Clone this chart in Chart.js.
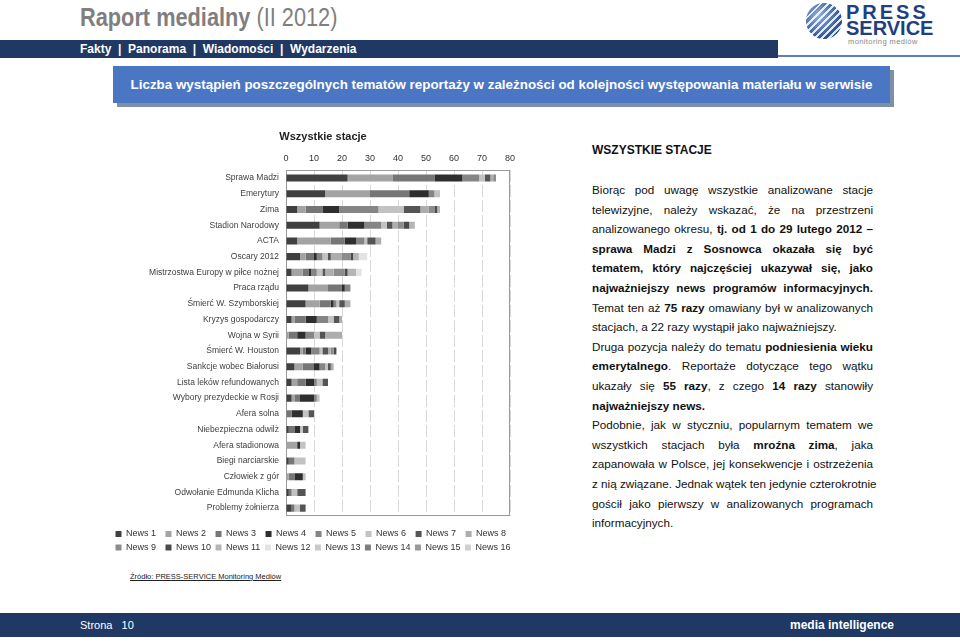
<!DOCTYPE html>
<html><head><meta charset="utf-8">
<script src="https://cdn.jsdelivr.net/npm/chart.js@4.4.1/dist/chart.umd.min.js"></script>
<style>
html,body{margin:0;padding:0;background:#fff;}
body{width:960px;height:644px;position:relative;overflow:hidden;font-family:"Liberation Sans",Arial,sans-serif;}
.abs{position:absolute;white-space:nowrap;}
#hdr{left:80px;top:5px;font-size:25px;line-height:25px;color:#7f7f7f;transform:scaleX(0.87);transform-origin:left top;}
#nav{left:0;top:40px;width:778px;height:18px;background:#1f3864;}
#navtxt{left:80px;top:40px;line-height:18px;font-size:12px;font-weight:bold;color:#fff;}
#navline{left:778px;top:55px;width:182px;height:2px;background:#5b7fb8;}
#tbox{left:113px;top:66px;width:777px;height:37px;background:#4a76c4;box-shadow:4px 4px 0 #7f8fa8;color:#fff;font-weight:bold;font-size:13.4px;line-height:37px;text-align:center;}
#logoC{left:806px;top:3px;width:36px;height:36px;border-radius:50%;
 background:repeating-linear-gradient(135deg,rgba(255,255,255,0.85) 0 2px,rgba(255,255,255,0) 2px 5px),radial-gradient(circle at 35% 35%,#8fb0e0,#2a4f94 70%,#1b3570);}
#logoP{left:846px;top:2px;font-size:20px;line-height:20px;font-weight:bold;color:#1f3f80;letter-spacing:3px;}
#logoS{left:846px;top:18px;font-size:20px;line-height:20px;font-weight:bold;color:#1f3f80;}
#logoM{left:848px;top:37px;font-size:7.5px;color:#888;letter-spacing:0.4px;}
#wst{left:592px;top:140px;line-height:20px;font-size:12px;font-weight:bold;color:#111;}
#para{position:absolute;left:592px;top:180px;width:281px;font-size:11.7px;line-height:19.6px;color:#111;}
#para div{text-align:justify;text-align-last:justify;white-space:nowrap;}
#para div.l{text-align-last:left;}
#src{left:130px;top:572px;font-size:7.5px;color:#222;text-decoration:underline;}
#foot{left:0;top:613px;width:960px;height:24px;background:#1f3864;}
#ftL{left:80px;top:613px;line-height:24px;font-size:11px;color:#fff;}
#ftR{left:790px;top:613px;line-height:24px;font-size:12px;font-weight:bold;color:#fff;}
#cv{position:absolute;left:111px;top:125px;}
</style></head>
<body>
<div class="abs" id="hdr"><b>Raport medialny</b> (II 2012)</div>
<div class="abs" id="logoC"></div>
<div class="abs" id="logoP">PRESS</div>
<div class="abs" id="logoS">SERVICE</div>
<div class="abs" id="logoM">monitoring mediów</div>
<div class="abs" id="nav"></div>
<div class="abs" id="navline"></div>
<div class="abs" id="navtxt">Fakty &nbsp;| &nbsp;Panorama &nbsp;| &nbsp;Wiadomości &nbsp;| &nbsp;Wydarzenia</div>
<div class="abs" id="tbox">Liczba wystąpień poszczególnych tematów reportaży w zależności od kolejności występowania materiału w serwisie</div>

<div class="abs" id="wst">WSZYSTKIE STACJE</div>
<div id="para">
<div>Biorąc pod uwagę wszystkie analizowane stacje</div>
<div>telewizyjne, należy wskazać, że na przestrzeni</div>
<div>analizowanego okresu, <b>tj. od 1 do 29 lutego 2012 –</b></div>
<div><b>sprawa Madzi z Sosnowca okazała się być</b></div>
<div><b>tematem, który najczęściej ukazywał się, jako</b></div>
<div><b>najważniejszy news programów informacyjnych.</b></div>
<div>Temat ten aż <b>75 razy</b> omawiany był w analizowanych</div>
<div class="l">stacjach, a 22 razy wystąpił jako najważniejszy.</div>
<div>Druga pozycja należy do tematu <b>podniesienia wieku</b></div>
<div><b>emerytalnego</b>. Reportaże dotyczące tego wątku</div>
<div>ukazały się <b>55 razy</b>, z czego <b>14 razy</b> stanowiły</div>
<div class="l"><b>najważniejszy news.</b></div>
<div>Podobnie, jak w styczniu, popularnym tematem we</div>
<div>wszystkich stacjach była <b>mroźna zima</b>, jaka</div>
<div>zapanowała w Polsce, jej konsekwencje i ostrzeżenia</div>
<div>z nią związane. Jednak wątek ten jedynie czterokrotnie</div>
<div>gościł jako pierwszy w analizowanych programach</div>
<div class="l">informacyjnych.</div>
</div>

<div class="abs" id="src">Źródło: PRESS-SERVICE Monitoring Mediów</div>
<div class="abs" id="foot"></div>
<div class="abs" id="ftL">Strona &nbsp;&nbsp;10</div>
<div class="abs" id="ftR">media intelligence</div>

<canvas id="cv" width="424" height="440"></canvas>
<script>
const categories = ["Sprawa Madzi","Emerytury","Zima","Stadion Narodowy","ACTA","Oscary 2012",
 "Mistrzostwa Europy w piłce nożnej","Praca rządu","Śmierć W. Szymborskiej","Kryzys gospodarczy",
 "Wojna w Syrii","Śmierć W. Houston","Sankcje wobec Białorusi","Lista leków refundowanych",
 "Wybory prezydeckie w Rosji","Afera solna","Niebezpieczna odwilż","Afera stadionowa",
 "Biegi narciarskie","Człowiek z gór","Odwołanie Edmunda Klicha","Problemy żołnierza"];
const xTicks = [0,10,20,30,40,50,60,70,80];

const news1  = [22,14,4,12,4,5,2,8,7,2,0,5,3,2,2,0,1,0,1,0,1,2];
const news2  = [16,16,3,7,12,2,4,7,5,1,1,1,3,2,1,0,0,4,0,1,0,0];
const news3  = [15,14,6,3,5,3,2,5,4,4,3,1,4,3,2,2,2,0,2,2,1,1];
const news4  = [10,7,6,6,4,1,1,1,1,4,3,2,2,3,5,4,2,1,0,3,0,0];
const news5  = [6,2,14,6,3,2,2,2,1,4,3,3,2,1,1,0,0,0,0,0,0,0];
const news6  = [2,2,9,2,1,2,2,0,1,2,2,1,1,2,1,2,1,2,4,1,2,2];
const news7  = [2,0,6,2,3,1,1,0,2,2,2,2,1,2,0,2,2,0,0,0,3,2];
const news8  = [1,0,3,2,2,4,3,0,2,1,6,1,1,0,0,0,0,0,0,0,0,0];
const news9  = [1,0,2,2,0,3,4,0,0,0,0,1,0,0,0,0,0,0,0,0,0,0];
const news10 = [0,0,1,2,0,1,1,0,0,0,0,1,0,0,0,0,0,0,0,0,0,0];
const news11 = [0,0,1,2,0,2,3,0,0,0,0,0,0,0,0,0,0,0,0,0,0,0];
const news12 = [0,0,0,0,0,3,2,0,0,0,0,0,0,0,0,0,0,0,0,0,0,0];
const news13 = [0,0,0,0,0,0,0,0,0,0,0,0,0,0,0,0,0,0,0,0,0,0];
const news14 = [0,0,0,0,0,0,0,0,0,0,0,0,0,0,0,0,0,0,0,0,0,0];
const news15 = [0,0,0,0,0,0,0,0,0,0,0,0,0,0,0,0,0,0,0,0,0,0];
const news16 = [0,0,0,0,0,0,0,0,0,0,0,0,0,0,0,0,0,0,0,0,0,0];
const seriesNames = ["News 1","News 2","News 3","News 4","News 5","News 6","News 7","News 8",
 "News 9","News 10","News 11","News 12","News 13","News 14","News 15","News 16"];
const seriesValues = [news1,news2,news3,news4,news5,news6,news7,news8,news9,news10,news11,news12,news13,news14,news15,news16];
const seriesColors = ["#404040","#a3a3a3","#767676","#2e2e2e","#858585","#c2c2c2","#555555","#adadad",
 "#8c8c8c","#4a4a4a","#b5b5b5","#e3e3e3","#c9c9c9","#7d7d7d","#999999","#cfcfcf"];

const plotBorder = {
  id:'plotBorder',
  beforeDatasetsDraw(chart){
    const {ctx, chartArea:a} = chart;
    ctx.save(); ctx.strokeStyle='#9a9a9a'; ctx.lineWidth=1;
    ctx.strokeRect(Math.round(a.left)+0.5, Math.round(a.top)+0.5, Math.round(a.right-a.left)-1, Math.round(a.bottom-a.top)-1);
    ctx.restore();
  }
};

new Chart(document.getElementById('cv'), {
  type:'bar',
  data:{
    labels:categories,
    datasets:seriesNames.map((n,i)=>({label:n,data:seriesValues[i],backgroundColor:seriesColors[i],borderWidth:0,
      categoryPercentage:0.9,barPercentage:0.5}))
  },
  options:{
    indexAxis:'y',
    responsive:false,
    animation:false,
    devicePixelRatio:1,
    layout:{padding:{top:4,left:0,right:0,bottom:3}},
    scales:{
      x:{position:'top',stacked:true,min:0,max:80,
        afterBuildTicks(s){ s.ticks = xTicks.map(v=>({value:v})); },
        afterFit(s){ s.height = 17; },
        ticks:{padding:6,color:'#333',font:{family:'Liberation Sans',size:9}},
        grid:{color:'#d9d9d9',drawTicks:false,lineWidth:1},
        border:{display:false,dash:[12,3]}},
      y:{stacked:true,
        afterFit(s){ s.width = 175; },
        ticks:{padding:7,color:'#404040',font:{family:'Liberation Sans',size:8.5},autoSkip:false},
        grid:{display:false,drawTicks:false},
        border:{display:false}},
      yR:{type:'linear',position:'right',display:true,
        afterFit(s){ s.width = 25; },
        ticks:{display:false},grid:{display:false,drawTicks:false},border:{display:false}},
      xB:{type:'linear',position:'bottom',display:true,
        afterFit(s){ s.height = 9; },
        ticks:{display:false},grid:{display:false,drawTicks:false},border:{display:false}}
    },
    plugins:{
      title:{display:true,text:'Wszystkie stacje',color:'#222',
        font:{family:'Liberation Sans',size:11,weight:'bold'},padding:{top:1,bottom:10}},
      legend:{position:'bottom',align:'start',
        labels:{boxWidth:6,boxHeight:6,padding:4.5,color:'#333',
          font:{family:'Liberation Sans',size:9},
          generateLabels(chart){
            const items = Chart.defaults.plugins.legend.labels.generateLabels(chart);
            items.forEach(it=>{ if(it.text.length<7) it.text += '\u2007'; });
            return items;
          }}},
      tooltip:{enabled:false}
    }
  },
  plugins:[plotBorder]
});
</script>
</body></html>
